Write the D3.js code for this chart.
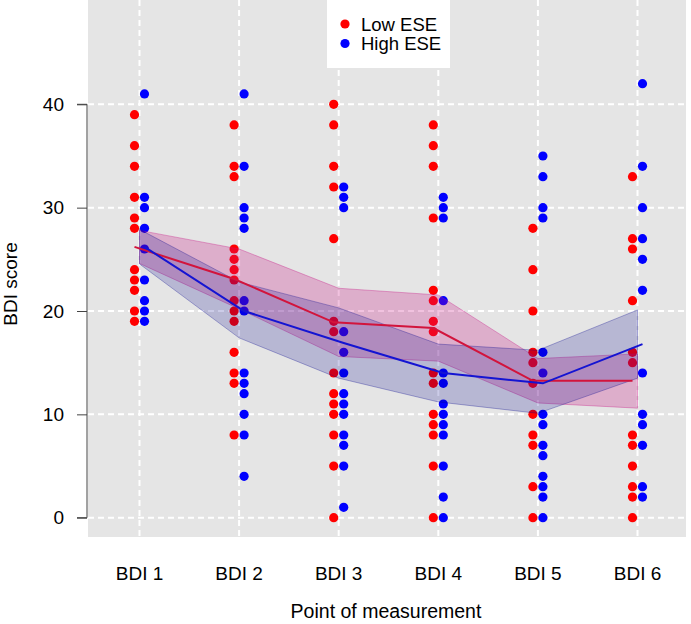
<!DOCTYPE html>
<html>
<head>
<meta charset="utf-8">
<script src="https://cdn.jsdelivr.net/npm/d3@7"></script>
<style>
    body { margin: 0; background: #fff; }
    svg { display: block; font-family: "Liberation Sans", Arial, sans-serif; }
</style>
</head>
<body>
<svg id="chart" width="691" height="624"></svg>
<script>
const categories = ["BDI 1", "BDI 2", "BDI 3", "BDI 4", "BDI 5", "BDI 6"];
const yTicks = [0, 10, 20, 30, 40];

// raw scores, one array per measurement point
const lowPoints = [
    [39, 36, 34, 31, 29, 28, 24, 23, 22, 20, 19],
    [38, 34, 33, 26, 25, 24, 23, 21, 20, 19, 16, 14, 13, 8],
    [40, 38, 34, 32, 27, 19, 18, 14, 12, 11, 10, 8, 5, 0],
    [38, 36, 34, 29, 22, 21, 19, 18, 14, 13, 10, 9, 8, 5, 0],
    [28, 24, 20, 16, 15, 13, 10, 8, 7, 3, 0],
    [33, 27, 26, 21, 16, 15, 8, 7, 5, 3, 2, 0]
];
const highPoints = [
    [41, 31, 30, 28, 26, 23, 21, 20, 19],
    [41, 34, 30, 29, 28, 21, 20, 14, 13, 12, 10, 8, 4],
    [32, 31, 30, 18, 16, 14, 12, 11, 10, 8, 7, 5, 1],
    [31, 30, 29, 21, 14, 13, 11, 10, 9, 8, 5, 2, 0],
    [35, 33, 30, 29, 16, 14, 10, 9, 7, 6, 4, 3, 2, 0],
    [42, 34, 30, 27, 25, 22, 14, 10, 9, 7, 3, 2]
];

// means and confidence bands
const lowMean = [26.2, 23.1, 18.9, 18.35, 13.25, 13.25];
const lowLower = [24.6, 20.2, 15.6, 15.15, 11.1, 10.6];
const lowUpper = [27.8, 26.0, 22.2, 21.55, 15.4, 15.85];
const highMean = [26.2, 20.0, 16.9, 14.0, 13.0, 16.8];
const highLower = [24.55, 17.4, 13.5, 11.2, 10.1, 13.5];
const highUpper = [27.9, 22.8, 20.3, 16.8, 16.2, 20.1];

const groups = [
    { name: "Low ESE", points: lowPoints, mean: lowMean, lower: lowLower, upper: lowUpper,
      dot: "#ff0000", band: "rgba(199,21,133,0.26)", edge: "rgba(199,21,133,0.35)", line: "#d2143c", offset: -5 },
    { name: "High ESE", points: highPoints, mean: highMean, lower: highLower, upper: highUpper,
      dot: "#0000ff", band: "rgba(0,0,139,0.2)", edge: "rgba(0,0,139,0.3)", line: "#1414d2", offset: 5 }
];

const svg = d3.select("#chart");
const x = d3.scaleLinear().domain([1, 6]).range([139.5, 637.5]);
const y = d3.scaleLinear().domain([0, 40]).range([517.7, 104.3]);

// grey panel
svg.append("rect")
    .attr("x", x(0.483)).attr("y", 0)
    .attr("width", x(6.487) - x(0.483)).attr("height", y(-1.87))
    .attr("fill", "#e5e5e5");

// dashed white grid
const grid = svg.append("g").attr("stroke", "#fff").attr("stroke-width", 2).attr("stroke-dasharray", "6,4");
grid.selectAll(".h").data(yTicks).enter().append("line")
    .attr("x1", x(0.483)).attr("x2", x(6.487))
    .attr("y1", d => y(d)).attr("y2", d => y(d));
grid.selectAll(".v").data(categories).enter().append("line")
    .attr("x1", (d, i) => x(i + 1)).attr("x2", (d, i) => x(i + 1))
    .attr("y1", 0).attr("y2", y(-1.87));

// points
groups.forEach(g => {
    const flat = [];
    g.points.forEach((vals, i) => vals.forEach(v => flat.push({ i, v })));
    svg.append("g").selectAll("circle").data(flat).enter().append("circle")
        .attr("cx", d => x(d.i + 1) + g.offset)
        .attr("cy", d => y(d.v))
        .attr("r", 4.6)
        .attr("fill", g.dot);
});

// bands
groups.forEach(g => {
    const area = d3.area()
        .x((d, i) => x(i + 1))
        .y0((d, i) => y(g.lower[i]))
        .y1((d, i) => y(g.upper[i]));
    svg.append("path")
        .attr("d", area(g.mean))
        .attr("fill", g.band)
        .attr("stroke", g.edge)
        .attr("stroke-width", 1);
});

// mean lines
groups.forEach(g => {
    const line = d3.line()
        .x((d, i) => x(i + 1) + g.offset)
        .y(d => y(d));
    svg.append("path")
        .attr("d", line(g.mean))
        .attr("fill", "none")
        .attr("stroke", g.line)
        .attr("stroke-width", 2);
});

// y axis
const yAxis = d3.axisLeft(y).tickValues(yTicks).tickSize(10).tickPadding(13);
const ya = svg.append("g").attr("transform", "translate(87,0)").call(yAxis);
ya.select(".domain").attr("stroke", "#444").attr("d", `M-10,${y(0)}H0V${y(40)}H-10`);
ya.selectAll(".tick line").attr("stroke", "#444");
ya.selectAll(".tick text").attr("font-size", 19).attr("fill", "#000")
    .attr("font-family", "Liberation Sans, Arial, sans-serif");

// x labels
svg.append("g").selectAll("text").data(categories).enter().append("text")
    .attr("x", (d, i) => x(i + 1))
    .attr("y", 580)
    .attr("text-anchor", "middle")
    .attr("font-size", 19)
    .text(d => d);

svg.append("text")
    .attr("x", 386).attr("y", 618)
    .attr("text-anchor", "middle")
    .attr("font-size", 19.5)
    .text("Point of measurement");

svg.append("text")
    .attr("transform", "translate(17,284) rotate(-90)")
    .attr("text-anchor", "middle")
    .attr("font-size", 19)
    .text("BDI score");

// legend
const legend = svg.append("g");
legend.append("rect")
    .attr("x", 327).attr("y", 0).attr("width", 123).attr("height", 68)
    .attr("fill", "#fff");
groups.forEach((g, k) => {
    legend.append("circle")
        .attr("cx", 345).attr("cy", 24 + k * 19.5).attr("r", 4.6)
        .attr("fill", g.dot);
    legend.append("text")
        .attr("x", 361).attr("y", 30.5 + k * 19.5)
        .attr("font-size", 18.5)
        .text(g.name);
});
</script>
</body>
</html>
